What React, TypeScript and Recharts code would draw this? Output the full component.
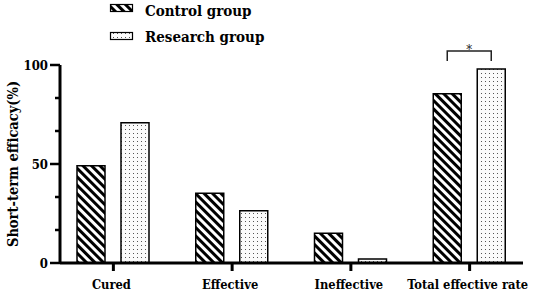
import { Bar, BarChart, LabelList, XAxis, YAxis } from "recharts";

// Short-term efficacy by group.
const categories = ["Cured", "Effective", "Ineffective", "Total effective rate"];
const controlValues = [49.1, 35.2, 15.0, 85.5];
const researchValues = [70.8, 26.4, 2.0, 98.0];
const significance = ["", "", "", "*"];
const yTicks = [0, 16.67, 33.33, 50, 66.67, 83.33, 100];
const yLabelled = [0, 50, 100];

const FONT = "'DejaVu Serif Condensed', 'DejaVu Serif', serif";
const TXT = { fontFamily: FONT, fontWeight: 700 } as const;
const BAR_SIZE = 28;
const BAR_GAP = 16;

const rows = categories.map((name, i) => ({
  name,
  control: controlValues[i],
  research: researchValues[i],
  sig: significance[i],
}));

function YTick(props: any) {
  const { x, y, payload } = props;
  const major = yLabelled.includes(payload.value);
  const len = major ? 10 : 5;
  return (
    <g>
      <line x1={x - len} x2={x} y1={y} y2={y} stroke="#000" strokeWidth={2.5} />
      {major && (
        <text x={x - 12} y={y} dy="0.36em" textAnchor="end" style={{ ...TXT, fontSize: 13 }} fill="#000">
          {payload.value}
        </text>
      )}
    </g>
  );
}

function XTick(props: any) {
  const { x, y, payload } = props;
  return (
    <g>
      <line x1={x} x2={x} y1={y} y2={y + 8} stroke="#000" strokeWidth={3} />
      <text x={x - 2} y={y + 26} textAnchor="middle" style={{ ...TXT, fontSize: 12.8 }} fill="#000">
        {payload.value}
      </text>
    </g>
  );
}

function YTitle(props: any) {
  const { x, y, height } = props.viewBox;
  const cx = x + 12;
  const cy = y + height / 2;
  return (
    <text x={cx} y={cy} transform={`rotate(-90 ${cx} ${cy})`} textAnchor="middle" dominantBaseline="central"
      style={{ ...TXT, fontSize: 14.5 }} fill="#000">
      Short-term efficacy(%)
    </text>
  );
}

function SigMark(props: any) {
  const vb = props.viewBox ?? props;
  const { x, y, width } = vb;
  if (!props.value) return null;
  const right = x + width / 2;
  const left = right - BAR_SIZE - BAR_GAP;
  const top = y - 18;
  const foot = y - 8;
  return (
    <g>
      <path d={`M${left},${foot}V${top}H${right}V${foot}`} fill="none" stroke="#222" strokeWidth={1.5} />
      <text x={(left + right) / 2} y={top + 3} textAnchor="middle" style={{ fontFamily: FONT, fontSize: 13 }} fill="#222">
        {props.value}
      </text>
    </g>
  );
}

function Patterns() {
  return (
    <svg width={0} height={0} style={{ position: "absolute" }}>
      <defs>
        <pattern id="stripes" patternUnits="userSpaceOnUse" width={6} height={6} patternTransform="rotate(-45)">
          <rect width={6} height={6} fill="#fff" />
          <rect width={3} height={6} fill="#000" />
        </pattern>
        <pattern id="dots" patternUnits="userSpaceOnUse" width={4} height={4}>
          <rect width={4} height={4} fill="#fbfbfb" />
          <rect x={1} y={1} width={1} height={1} fill="#555" />
        </pattern>
      </defs>
    </svg>
  );
}

export default function App() {
  return (
    <div style={{ position: "absolute", left: 0, top: 0, width: 536, height: 292, background: "#fff" }}>
      <Patterns />
      <BarChart width={536} height={292} data={rows} margin={{ top: 65, right: 13, left: 0, bottom: 0 }}
        barSize={BAR_SIZE} barGap={BAR_GAP}>
        <XAxis dataKey="name" height={29} padding={{ left: -6, right: -6 }} tick={<XTick />} tickSize={0} tickMargin={0}
          tickLine={false} axisLine={{ stroke: "#000", strokeWidth: 3 }} interval={0} />
        <YAxis width={60} domain={[0, 100]} ticks={yTicks} tick={<YTick />} tickSize={0} tickMargin={0}
          tickLine={false} axisLine={{ stroke: "#000", strokeWidth: 3 }} interval={0} label={{ content: <YTitle /> }} />
        <Bar dataKey="control" fill="url(#stripes)" stroke="#000" strokeWidth={1.5} isAnimationActive={false} />
        <Bar dataKey="research" fill="url(#dots)" stroke="#000" strokeWidth={1.5} isAnimationActive={false}>
          <LabelList dataKey="sig" content={<SigMark />} />
        </Bar>
      </BarChart>
      <svg width={536} height={50} style={{ position: "absolute", left: 0, top: 0, pointerEvents: "none" }}>
        <rect x={110.5} y={4.5} width={22} height={7} fill="url(#stripes)" stroke="#000" strokeWidth={1.2} />
        <text x={145} y={16} style={{ ...TXT, fontSize: 15 }} fill="#000">Control group</text>
        <rect x={110.5} y={32.5} width={22} height={7} fill="url(#dots)" stroke="#000" strokeWidth={1.2} />
        <text x={145} y={42} style={{ ...TXT, fontSize: 15 }} fill="#000">Research group</text>
      </svg>
    </div>
  );
}
